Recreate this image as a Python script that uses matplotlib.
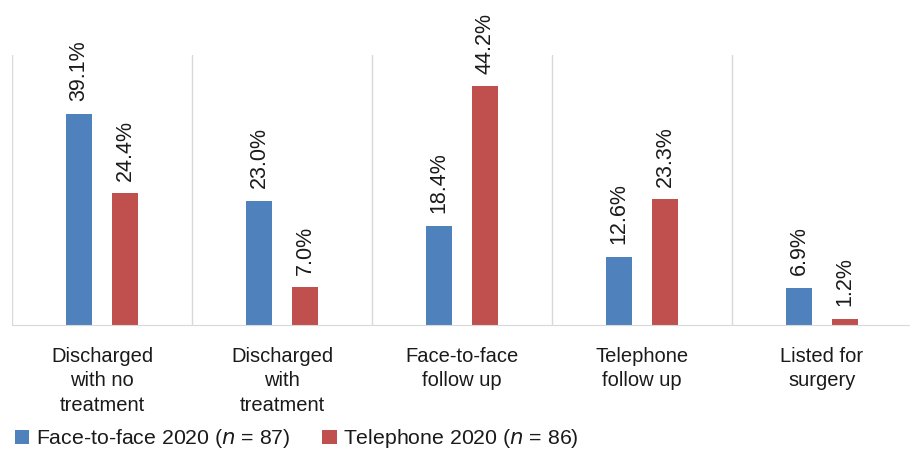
import numpy as np
import matplotlib.pyplot as plt

# outcome categories and percentages per clinic type
categories = ["Discharged\nwith no\ntreatment", "Discharged\nwith\ntreatment",
              "Face-to-face\nfollow up", "Telephone\nfollow up", "Listed for\nsurgery"]
face_to_face = [39.1, 23.0, 18.4, 12.6, 6.9]
telephone = [24.4, 7.0, 44.2, 23.3, 1.2]

blue = "#4F81BD"
red = "#C0504D"
grid = "#d9d9d9"

plt.rcParams["font.family"] = ["Liberation Sans", "DejaVu Sans"]

fig = plt.figure(figsize=(9.1, 4.5), dpi=100)
ax = fig.add_axes([12 / 910, 125 / 450, 900 / 910, 270 / 450])

x = np.arange(len(categories))
w = 0.14
off = 0.128
b1 = ax.bar(x - off, face_to_face, w, color=blue, label="Face-to-face 2020 ($\\it{n}$ = 87)")
b2 = ax.bar(x + off, telephone, w, color=red, label="Telephone 2020 ($\\it{n}$ = 86)")

for bars, vals in ((b1, face_to_face), (b2, telephone)):
    for rect, v in zip(bars, vals):
        ax.annotate(f"{v:.1f}%", (rect.get_x() + rect.get_width() / 2, v),
                    xytext=(0, 9), textcoords="offset points",
                    rotation=90, ha="center", va="bottom", fontsize=15.5, color="#1a1a1a")

# category separators
for b in np.arange(len(categories) + 1) - 0.5:
    ax.axvline(b, color=grid, lw=1, zorder=0)

ax.set_xlim(-0.5, len(categories) - 0.5)
ax.set_ylim(0, 50)
ax.set_yticks([])
ax.set_xticks(x)
ax.set_xticklabels(categories, fontsize=14.5, color="#1a1a1a", linespacing=1.35)
ax.tick_params(axis="x", length=0, pad=16)
for s in ("top", "left", "right"):
    ax.spines[s].set_visible(False)
ax.spines["bottom"].set_color(grid)

fig.legend(handles=[b1, b2], loc="lower left", bbox_to_anchor=(0.016, -0.001),
           borderaxespad=0, borderpad=0,
           ncol=2, frameon=False, fontsize=15.3, handlelength=0.7, handleheight=0.7,
           handletextpad=0.3, columnspacing=1.5, labelcolor="#1a1a1a")

fig.savefig("out.png", dpi=100)
